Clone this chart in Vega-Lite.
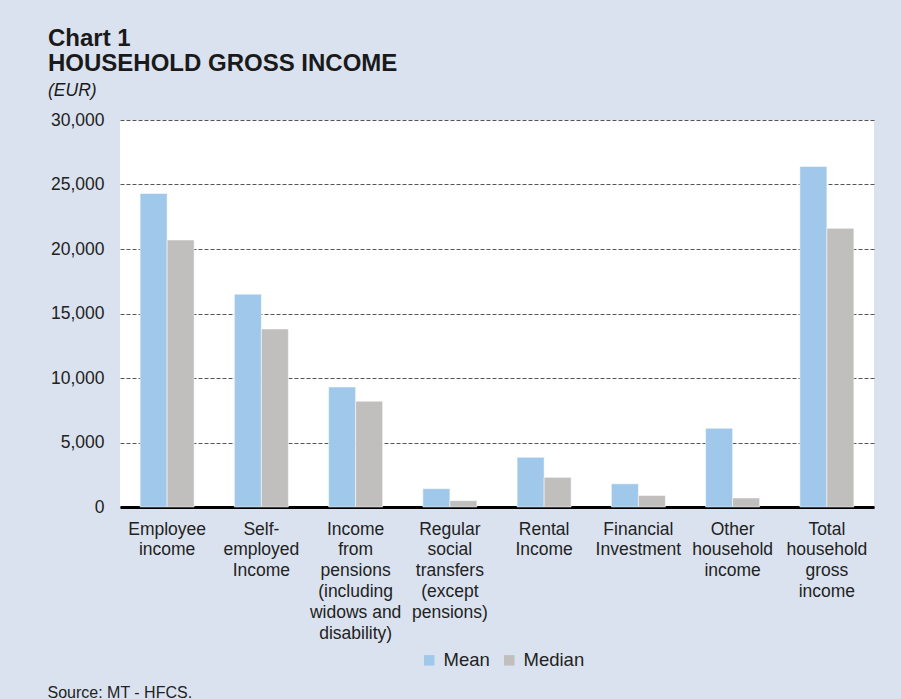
{
  "$schema": "https://vega.github.io/schema/vega-lite/v6.json",
  "width": 754,
  "height": 387,
  "autosize": "none",
  "padding": {"left": 120, "top": 120, "right": 27, "bottom": 192},
  "background": "#dae2ef",
  "title": {
    "text": ["Chart 1", "HOUSEHOLD GROSS INCOME"],
    "subtitle": "(EUR)",
    "anchor": "start",
    "frame": "group",
    "dx": -72,
    "offset": 12,
    "font": "Liberation Sans",
    "fontSize": 24,
    "fontWeight": "bold",
    "lineHeight": 25,
    "color": "#1a1a1a",
    "subtitleFont": "Liberation Sans",
    "subtitleFontSize": 17.5,
    "subtitleFontStyle": "italic",
    "subtitleColor": "#1a1a1a",
    "subtitlePadding": 6
  },
  "data": {
    "values": [
      {"category": "Employee|income", "series": "Mean", "value": 24300},
      {"category": "Employee|income", "series": "Median", "value": 20700},
      {"category": "Self-|employed|Income", "series": "Mean", "value": 16500},
      {"category": "Self-|employed|Income", "series": "Median", "value": 13800},
      {"category": "Income|from|pensions|(including|widows and|disability)", "series": "Mean", "value": 9300},
      {"category": "Income|from|pensions|(including|widows and|disability)", "series": "Median", "value": 8200},
      {"category": "Regular|social|transfers|(except|pensions)", "series": "Mean", "value": 1420},
      {"category": "Regular|social|transfers|(except|pensions)", "series": "Median", "value": 490},
      {"category": "Rental|Income", "series": "Mean", "value": 3850},
      {"category": "Rental|Income", "series": "Median", "value": 2300},
      {"category": "Financial|Investment", "series": "Mean", "value": 1800},
      {"category": "Financial|Investment", "series": "Median", "value": 890},
      {"category": "Other|household|income", "series": "Mean", "value": 6100},
      {"category": "Other|household|income", "series": "Median", "value": 700},
      {"category": "Total|household|gross|income", "series": "Mean", "value": 26400},
      {"category": "Total|household|gross|income", "series": "Median", "value": 21600}
    ]
  },
  "mark": {"type": "bar", "stroke": "white", "strokeOpacity": 0.5, "strokeWidth": 1},
  "encoding": {
    "x": {
      "field": "category",
      "type": "nominal",
      "sort": null,
      "scale": {"paddingInner": 0.427, "paddingOuter": 0.2135},
      "axis": {
        "title": "Source: MT - HFCS.",
        "titleX": -73,
        "titleY": 190,
        "titleAnchor": "start",
        "titleAlign": "left",
        "titleBaseline": "alphabetic",
        "titleFont": "Liberation Sans",
        "titleFontSize": 16,
        "titleFontWeight": "normal",
        "titleColor": "#222222",
        "labelExpr": "split(datum.label, '|')",
        "labelAngle": 0,
        "labelFont": "Liberation Sans",
        "labelFontSize": 17.5,
        "labelLineHeight": 20.8,
        "labelColor": "#222222",
        "labelPadding": 13,
        "labelBaseline": "top",
        "ticks": false,
        "domainColor": "#000000",
        "domainWidth": 3,
        "grid": false
      }
    },
    "xOffset": {"field": "series", "type": "nominal", "scale": {"paddingInner": 0, "paddingOuter": 0}},
    "y": {
      "field": "value",
      "type": "quantitative",
      "scale": {"domain": [0, 30000], "nice": false},
      "axis": {
        "title": null,
        "values": [0, 5000, 10000, 15000, 20000, 25000, 30000],
        "format": ",d",
        "labelFont": "Liberation Sans",
        "labelFontSize": 17.5,
        "labelColor": "#222222",
        "labelPadding": 16,
        "ticks": false,
        "domain": false,
        "grid": true,
        "gridColor": "#555555",
        "gridDash": [4, 2],
        "gridWidth": 1
      }
    },
    "color": {
      "field": "series",
      "type": "nominal",
      "scale": {"domain": ["Mean", "Median"], "range": ["#9fc8ea", "#c0bfbe"]},
      "legend": {
        "title": null,
        "orient": "none",
        "direction": "horizontal",
        "legendX": 300,
        "legendY": 531,
        "symbolType": "square",
        "symbolSize": 110,
        "symbolStrokeWidth": 0,
        "labelFont": "Liberation Sans",
        "labelFontSize": 18.5,
        "labelColor": "#222222",
        "labelOffset": 5,
        "columnPadding": 10,
        "padding": 0
      }
    }
  },
  "config": {
    "view": {"fill": "white", "stroke": null}
  }
}
